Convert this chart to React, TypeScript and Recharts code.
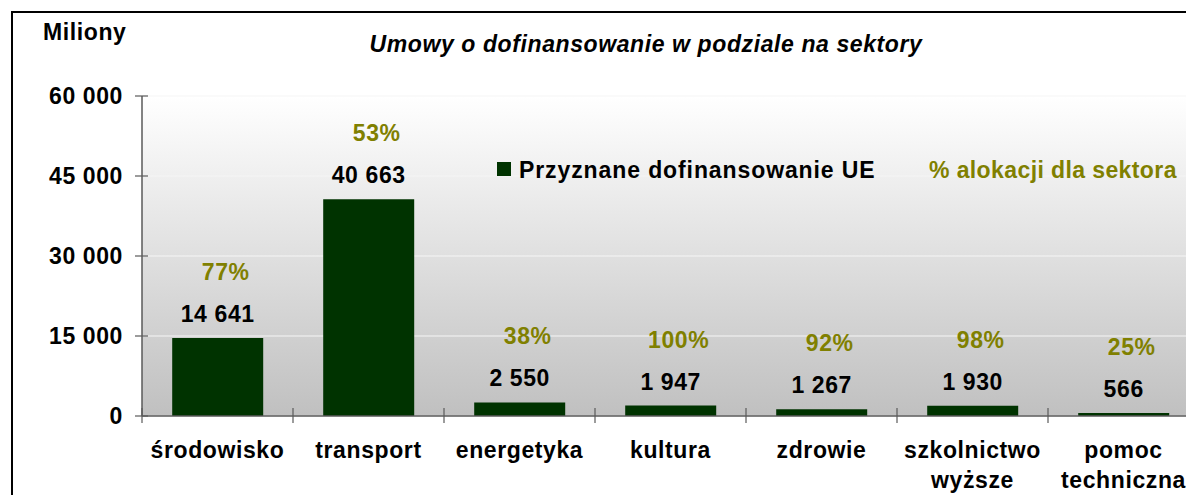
import React from 'react';
import { BarChart, Bar, XAxis, YAxis, CartesianGrid, LabelList, Legend } from 'recharts';

const categories = ['środowisko', 'transport', 'energetyka', 'kultura', 'zdrowie', 'szkolnictwo wyższe', 'pomoc techniczna'];
const fundingEU = [14641, 40663, 2550, 1947, 1267, 1930, 566];
const allocationPct = [77, 53, 38, 100, 92, 98, 25];
const yTicks = [0, 15000, 30000, 45000, 60000];

const data = categories.map((name, i) => ({ name, value: fundingEU[i], pct: allocationPct[i] }));

const FONT = '"Liberation Sans", Arial, sans-serif';
const BAR = '#003300';
const OLIVE = '#808000';
const AXIS = '#5a5a5a';
const FS = 23;
const LS = 0.6;

const CHART_W = 1230;
const CHART_H = 495;
const MARGIN = { top: 96, right: 31, bottom: 0, left: 0 };
const X_AXIS_H = 79;
const Y_AXIS_W = 142;
const BAND = (CHART_W - MARGIN.right - MARGIN.left - Y_AXIS_W) / categories.length;

const fmt = (n: number) => n.toString().replace(/\B(?=(\d{3})+(?!\d))/g, ' ');

const XTick = (props: any) => {
  const { x, y, payload } = props;
  const lines = String(payload.value).split(' ');
  const left = x - BAND / 2;
  return (
    <g>
      <line x1={left} x2={left} y1={y - 8} y2={y + 7} stroke={AXIS} strokeWidth={1.2} />
      {lines.map((l, i) => (
        <text key={i} x={x} y={y + 42 + i * 30} textAnchor="middle" fontSize={FS} letterSpacing={LS} fontWeight="bold" fill="#000" fontFamily={FONT}>
          {l}
        </text>
      ))}
    </g>
  );
};

const YTick = (props: any) => {
  const { x, y, payload } = props;
  return (
    <g>
      <line x1={x - 7} x2={x + 6} y1={y} y2={y} stroke={AXIS} strokeWidth={1.2} />
      <text x={x - 19} y={y + 8} textAnchor="end" fontSize={FS} letterSpacing={LS} fontWeight="bold" fill="#000" fontFamily={FONT}>
        {fmt(payload.value)}
      </text>
    </g>
  );
};

const ValueLabel = (props: any) => {
  const { x, y, width, value } = props;
  return (
    <text x={x + width / 2} y={y - 16} textAnchor="middle" fontSize={FS} letterSpacing={LS} fontWeight="bold" fill="#000" fontFamily={FONT}>
      {fmt(value)}
    </text>
  );
};

const PctLabel = (props: any) => {
  const { x, y, width, value } = props;
  return (
    <text x={x + width / 2 + 8} y={y - 58} textAnchor="middle" fontSize={FS} letterSpacing={LS} fontWeight="bold" fill={OLIVE} fontFamily={FONT}>
      {value}%
    </text>
  );
};

const LegendBox = () => (
  <div style={{ position: 'relative', width: 700, height: 26, fontFamily: FONT, fontWeight: 'bold', fontSize: FS, lineHeight: '26px' }}>
    <span style={{ position: 'absolute', left: 0, top: 5, width: 14, height: 14, background: BAR }} />
    <span style={{ position: 'absolute', left: 22, top: 0, color: '#000', whiteSpace: 'nowrap', letterSpacing: 0.9 }}>Przyznane dofinansowanie UE</span>
    <span style={{ position: 'absolute', left: 432, top: 0, color: OLIVE, whiteSpace: 'nowrap', letterSpacing: 0.4 }}>% alokacji dla sektora</span>
  </div>
);

export default function App() {
  return (
    <div style={{ position: 'absolute', left: 0, top: 0, width: 1186, height: 495, overflow: 'hidden', background: '#fff', fontFamily: FONT }}>
      <div style={{ position: 'absolute', left: 11, top: 11, width: 1300, height: 600, border: '2px solid #000' }} />
      <div style={{ position: 'absolute', left: 43, top: 19, fontSize: FS, letterSpacing: LS, fontWeight: 'bold' }}>Miliony</div>
      <div style={{ position: 'absolute', left: 246, width: 800, textAlign: 'center', top: 31, fontSize: FS, letterSpacing: LS, fontWeight: 'bold', fontStyle: 'italic' }}>
        Umowy o dofinansowanie w podziale na sektory
      </div>
      <div style={{ position: 'absolute', left: 0, top: 0 }}>
        <BarChart width={CHART_W} height={CHART_H} data={data} margin={MARGIN} barCategoryGap="20%">
          <defs>
            <linearGradient id="plotBg" x1="0" y1="0" x2="0" y2="1">
              <stop offset="0%" stopColor="#ffffff" />
              <stop offset="100%" stopColor="#c0c0c0" />
            </linearGradient>
          </defs>
          <CartesianGrid vertical={false} stroke="#f6f6f6" strokeWidth={1.2} fill="url(#plotBg)" />
          <XAxis dataKey="name" interval={0} height={X_AXIS_H} axisLine={{ stroke: AXIS, strokeWidth: 1.5 }} tickLine={false} tickSize={0} tickMargin={0} tick={<XTick />} />
          <YAxis width={Y_AXIS_W} domain={[0, 60000]} ticks={yTicks} axisLine={{ stroke: AXIS, strokeWidth: 1.5 }} tickLine={false} tickSize={0} tickMargin={0} tick={<YTick />} />
          <Legend layout="horizontal" verticalAlign="middle" align="center" content={<LegendBox />} wrapperStyle={{ position: 'absolute', left: 497, top: 157, width: 700 }} />
          <Bar dataKey="value" fill={BAR} isAnimationActive={false}>
            <LabelList dataKey="value" content={<ValueLabel />} />
            <LabelList dataKey="pct" content={<PctLabel />} />
          </Bar>
        </BarChart>
      </div>
    </div>
  );
}
